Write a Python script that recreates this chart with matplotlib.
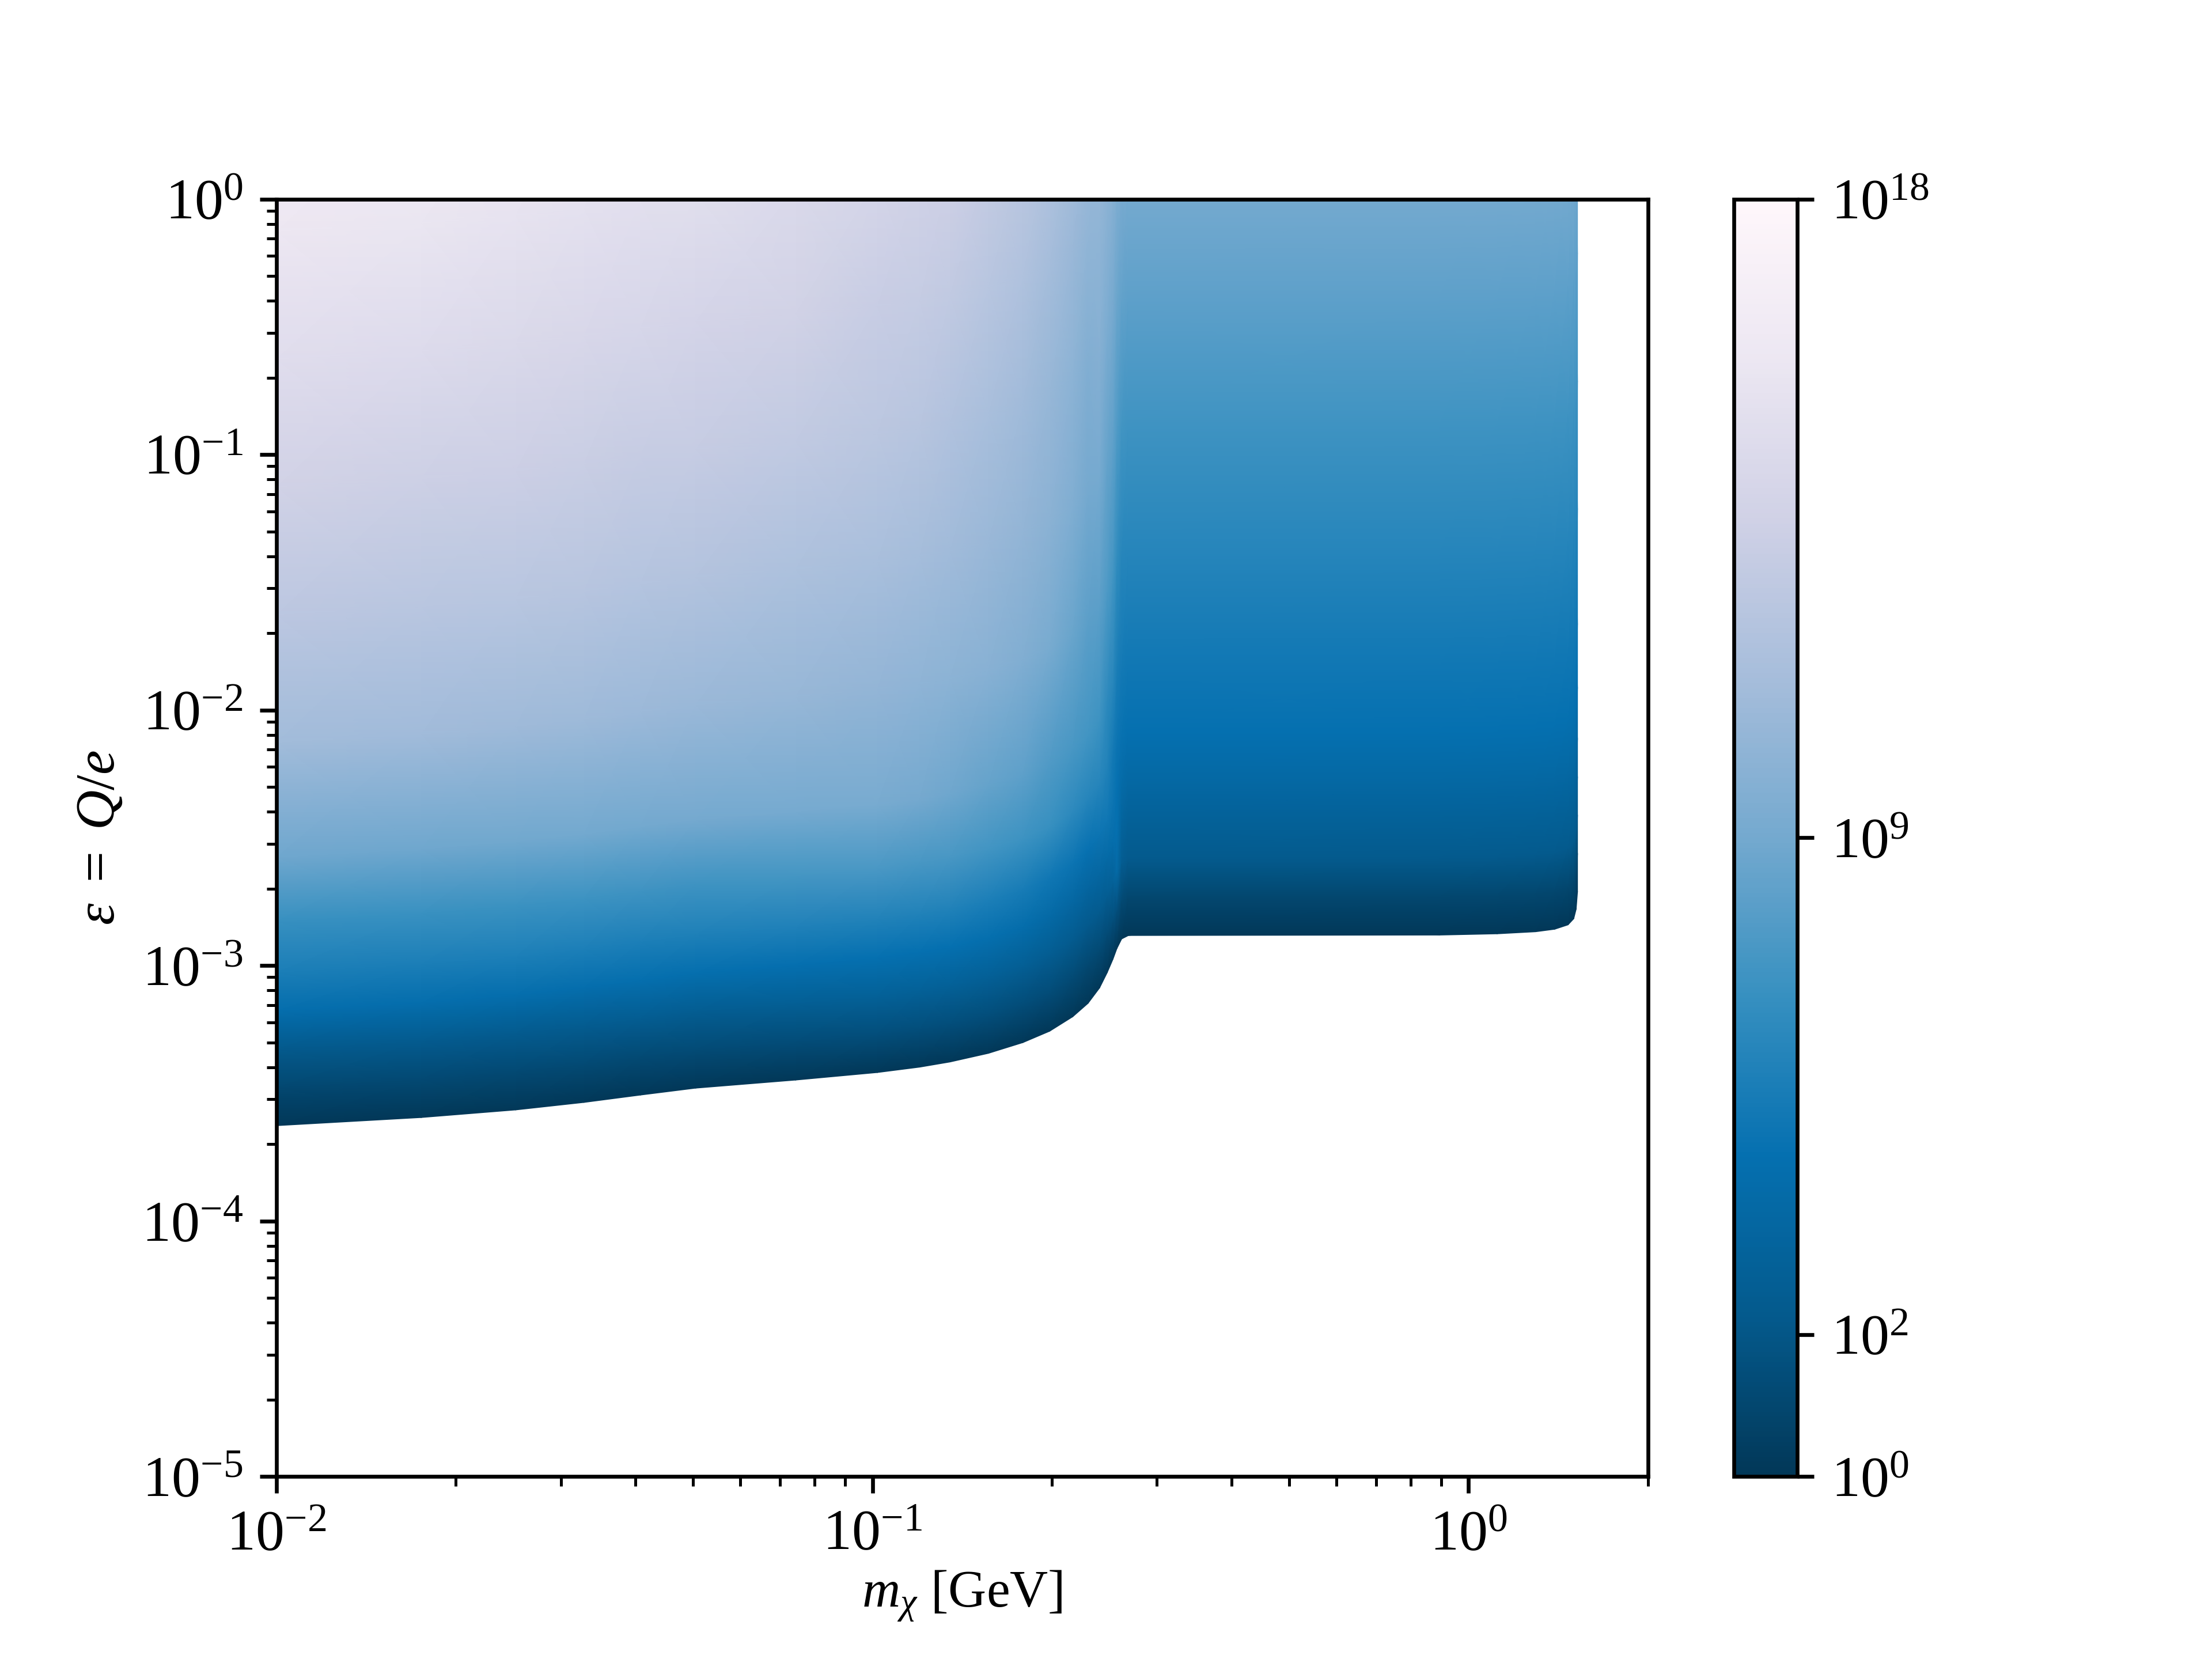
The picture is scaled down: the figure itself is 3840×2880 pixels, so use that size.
import numpy as np
import matplotlib
matplotlib.use("Agg")
import matplotlib.pyplot as plt
from matplotlib.colors import LogNorm

plt.rcParams['font.family'] = 'serif'
plt.rcParams['font.serif'] = ['Liberation Serif']
plt.rcParams['mathtext.fontset'] = 'custom'
plt.rcParams['mathtext.rm'] = 'Liberation Serif'
plt.rcParams['mathtext.it'] = 'Liberation Serif:italic'
plt.rcParams['mathtext.bf'] = 'Liberation Serif:bold'
plt.rcParams['mathtext.fallback'] = 'stix'
plt.rcParams['font.size'] = 12

# Mass columns [GeV] and the lower edge of the filled region in each
mass = [0.0100, 0.0175, 0.0252, 0.0328, 0.0408, 0.0505, 0.0743, 0.1019, 0.1200, 0.1349,
        0.1565, 0.1788, 0.1983, 0.2168, 0.2300, 0.2405, 0.2477, 0.2533, 0.2571, 0.2619,
        0.2688, 0.894, 1.117, 1.296, 1.395, 1.469, 1.502, 1.516, 1.524]
floor_eps = [2.36e-4, 2.54e-4, 2.72e-4, 2.91e-4, 3.11e-4, 3.31e-4, 3.56e-4, 3.81e-4, 4.00e-4, 4.19e-4,
             4.53e-4, 4.99e-4, 5.53e-4, 6.30e-4, 7.11e-4, 8.17e-4, 9.38e-4, 1.059e-3, 1.164e-3, 1.27e-3,
             1.31e-3, 1.315e-3, 1.33e-3, 1.355e-3, 1.386e-3, 1.442e-3, 1.524e-3, 1.66e-3, 1.94e-3]

# Height above the lower edge, in decades of epsilon
dex_above_floor = [0, .15, .3, .45, .6, .8, 1.05, 1.5, 2, 2.5, 3, 3.5, 4]

# log10 of the colour value, one list per mass column, one entry per height
right_profile = [0, 1, 2.25, 3, 3.7, 4.5, 5, 6, 7.1, 8.2, 9.3, 10.3, 11.3]
log_value = [
    [0, 1.1, 2.3, 4.3, 5.5, 6.75, 8.8, 11.1, 12.4, 13.5, 14.7, 15.8, 16.8],
    [0, 1.15, 2.4, 4.3, 5.55, 6.85, 8.85, 11, 12.3, 13.35, 14.5, 15.55, 16.5],
    [0, 1.18, 2.45, 4.32, 5.58, 6.92, 8.9, 10.92, 12.2, 13.22, 14.3, 15.32, 16.3],
    [0, 1.2, 2.5, 4.35, 5.6, 7, 8.95, 10.85, 12.1, 13.1, 14.1, 15.1, 16.1],
    [0, 1.25, 2.55, 4.38, 5.62, 7.05, 8.98, 10.78, 12, 13, 13.95, 14.95, 15.95],
    [0, 1.3, 2.6, 4.4, 5.65, 7.1, 9, 10.7, 11.9, 12.95, 13.85, 14.85, 15.85],
    [0, 1.4, 2.8, 4.45, 5.7, 7.3, 9.1, 10.55, 11.65, 12.7, 13.5, 14.4, 15.4],
    [0, 1.5, 3, 4.5, 5.8, 7.5, 9.2, 10.4, 11.4, 12.35, 13.05, 13.95, 14.95],
    [0, 1.5, 3, 4.52, 5.8, 7.45, 9, 10.25, 11.2, 12.1, 12.9, 13.7, 14.6],
    [0, 1.5, 3, 4.55, 5.8, 7.4, 8.85, 10.1, 11, 11.85, 12.7, 13.45, 14.25],
    [0, 1.48, 2.9, 4.4, 5.6, 7.2, 8.5, 9.85, 10.7, 11.4, 12.2, 12.95, 13.75],
    [0, 1.45, 2.8, 4.2, 5.4, 7, 8.2, 9.6, 10.4, 11, 11.8, 12.5, 13.3],
    [0, 1.4, 2.6, 3.9, 5, 6.75, 7.7, 9.2, 10, 10.6, 11.2, 12, 12.8],
    [0, 1.2, 2.4, 3.6, 4.8, 6.3, 7.4, 8.6, 9.5, 10.1, 10.7, 11.4, 12.1],
    [0, 1.1, 2.2, 3.4, 4.6, 6, 7.2, 8.1, 9, 9.6, 10.3, 10.9, 11.5],
    [0, 1.2, 2.4, 3.6, 4.8, 6, 7, 8.1, 9.1, 9.8, 10.3, 10.9, 11.5],
    [0, 1.3, 2.6, 3.9, 5, 5.8, 6.3, 7.6, 8.5, 9.3, 10, 10.7, 11.3],
    [0, 1.5, 3, 4.2, 4.8, 5.2, 6, 7.2, 8.2, 9, 9.8, 10.5, 11.1],
    [0, 1.6, 4, 4.5, 4.5, 4.8, 5.4, 6.5, 7.6, 8.6, 9.5, 10.2, 11],
    [0, 1.2, 2.6, 3.3, 4, 4.7, 5.2, 6.1, 7.2, 8.3, 9.4, 10.4, 11.4],
    right_profile, right_profile, right_profile, right_profile, right_profile,
    right_profile, right_profile, right_profile, right_profile,
]

xlimits = (0.01, 2.0)
ylimits = (1e-5, 1.0)
colorbar_ticks = [1e0, 1e2, 1e9, 1e18]

M = np.tile(np.array(mass)[:, None], (1, len(dex_above_floor)))
E = np.array(floor_eps)[:, None] * 10.0 ** np.array(dex_above_floor)[None, :]
C = 10.0 ** np.array(log_value)

fig, ax = plt.subplots(figsize=(6.4, 4.8), dpi=600)
mesh = ax.pcolormesh(M, E, C, shading='gouraud', cmap='PuBu_r', norm=LogNorm(vmin=1, vmax=1e18))
ax.set_xscale('log')
ax.set_yscale('log')
ax.set_xlim(*xlimits)
ax.set_ylim(*ylimits)
ax.set_xlabel(r'$m_\chi$ [GeV]', fontsize=11, labelpad=1.5)
ax.set_ylabel(r'$\epsilon\ =\ Q/e$', fontsize=11.5, labelpad=3.3)

cb = fig.colorbar(mesh, ax=ax)
cb.set_ticks(colorbar_ticks)
cb.ax.minorticks_off()

fig.savefig('out.png', dpi=600)
